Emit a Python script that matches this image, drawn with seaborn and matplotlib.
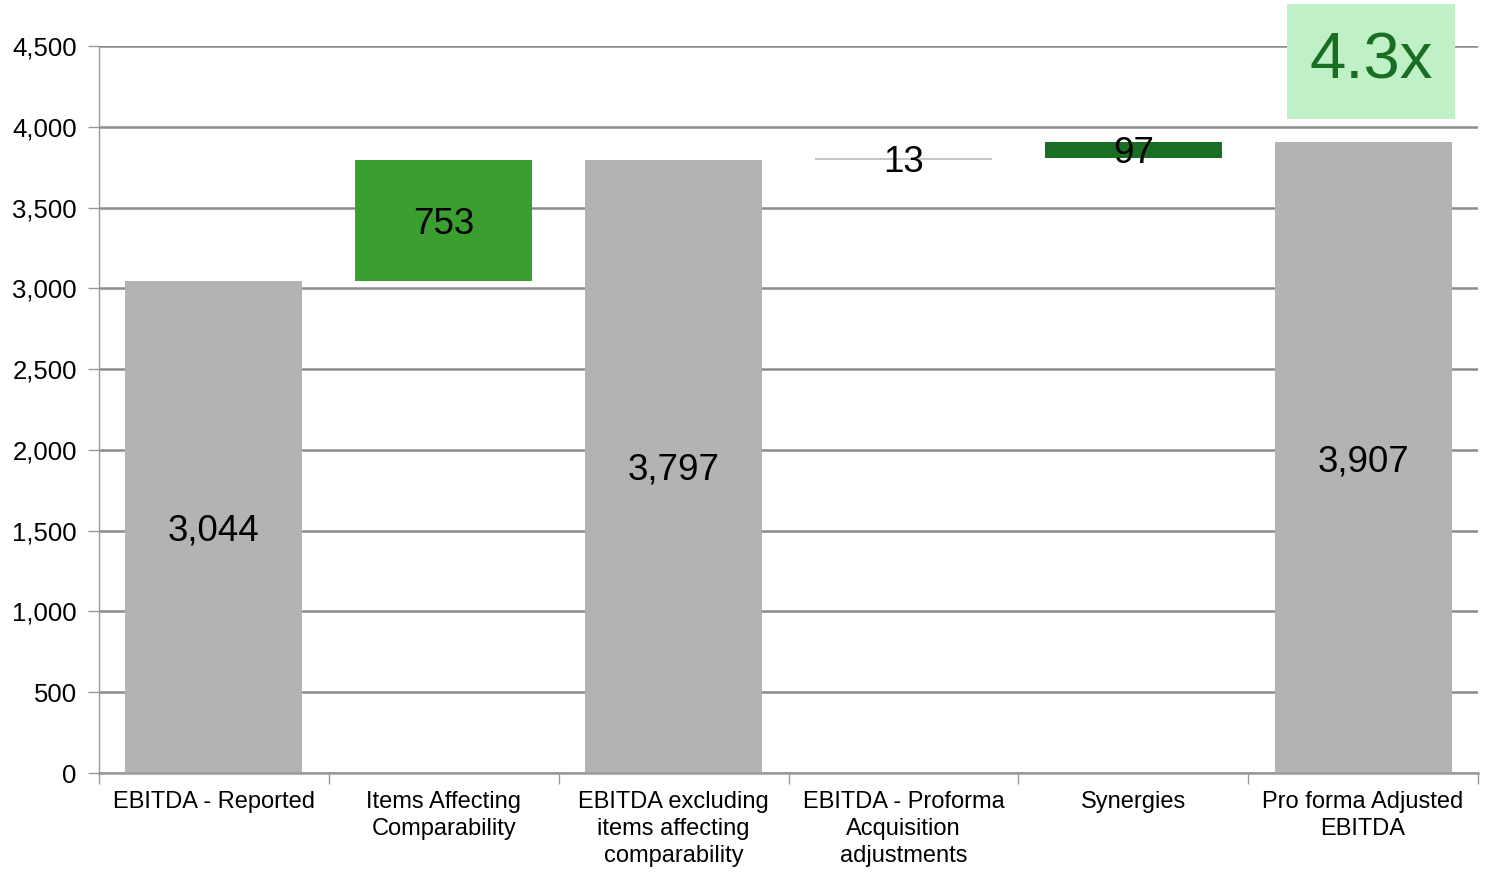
#!/usr/bin/env python
"""EBITDA bridge drawn as a seaborn waterfall."""

import matplotlib

matplotlib.use("Agg")
import matplotlib.pyplot as plt  # noqa: E402
import numpy as np  # noqa: E402
import seaborn as sns  # noqa: E402
from matplotlib.ticker import FuncFormatter, MultipleLocator  # noqa: E402

CATEGORIES = [
    "EBITDA - Reported",
    "Items Affecting\nComparability",
    "EBITDA excluding\nitems affecting\ncomparability",
    "EBITDA - Proforma\nAcquisition\nadjustments",
    "Synergies",
    "Pro forma Adjusted\nEBITDA",
]
VALUES = [3044, 753, 3797, 13, 97, 3907]
IS_TOTAL = [True, False, True, False, False, True]
LABELS = ["3,044", "753", "3,797", "13", "97", "3,907"]
COLORS = ["#b3b3b3", "#3b9e31", "#b3b3b3", "#c6c6c6", "#1a6e23", "#b3b3b3"]
MULTIPLE = "4.3x"


def waterfall_bottoms(values, is_total):
    bottoms, running = [], 0
    for value, total in zip(values, is_total):
        if total:
            bottoms.append(0)
            running = value
        else:
            bottoms.append(running)
            running += value
    return bottoms


def main() -> None:
    sns.set_theme(style="white")
    plt.rcParams["font.family"] = ["Liberation Sans", "DejaVu Sans"]

    bottoms = waterfall_bottoms(VALUES, IS_TOTAL)
    tops = [b + v for b, v in zip(bottoms, VALUES)]

    fig = plt.figure(figsize=(14.85, 8.72), dpi=100)
    ax = fig.add_axes([0.0667, 0.1135, 0.9286, 0.8337])
    ax.yaxis.grid(True, color="#8c8c8c", linewidth=1.8)
    ax.set_axisbelow(True)

    sns.barplot(
        x=CATEGORIES, y=tops, hue=CATEGORIES, palette=COLORS,
        width=0.77, saturation=1, legend=False, ax=ax, linewidth=0,
    )
    # turn the full-height bars into floating waterfall segments
    for patch, bottom, value in zip(ax.patches, bottoms, VALUES):
        patch.set_y(bottom)
        patch.set_height(value)

    for i, (bottom, value, label) in enumerate(zip(bottoms, VALUES, LABELS)):
        ax.annotate(label, (i, bottom + value / 2), xytext=(0, -3),
                    textcoords="offset points", ha="center", va="center",
                    fontsize=26.5, color="black")

    ax.text(5.035, 4404, MULTIPLE, ha="center", va="center", fontsize=47,
            color="#1a6e23", clip_on=False,
            bbox=dict(boxstyle="square,pad=0.345", mutation_aspect=1.22,
                      fc="#c0f0c6", ec="none"))

    ax.set_ylim(0, 4500)
    ax.set_xlim(-0.5, len(CATEGORIES) - 0.5)
    ax.yaxis.set_major_locator(MultipleLocator(500))
    ax.yaxis.set_major_formatter(FuncFormatter(lambda v, _: f"{v:,.0f}"))
    ax.set_xticks(np.arange(-0.5, len(CATEGORIES)), minor=True)
    ax.tick_params(axis="x", which="major", length=0, pad=13, labelsize=17,
                   colors="black")
    ax.tick_params(axis="x", which="minor", length=8, width=1, color="#9a9a9a",
                   direction="out", bottom=True)
    ax.tick_params(axis="y", length=8, width=1, color="#9a9a9a", direction="out",
                   left=True, labelsize=18.5, colors="black", pad=8)
    for lbl in ax.get_yticklabels():
        lbl.set_color("black")
    for lbl in ax.get_xticklabels():
        lbl.set_linespacing(1.3)

    for side in ("top", "right"):
        ax.spines[side].set_visible(False)
    ax.spines["left"].set_color("#9a9a9a")
    ax.spines["left"].set_linewidth(1)
    ax.spines["bottom"].set_color("#9a9a9a")
    ax.spines["bottom"].set_linewidth(1.8)
    ax.set_xlabel("")
    ax.set_ylabel("")

    fig.savefig("out.png", dpi=100)
    plt.close(fig)


if __name__ == "__main__":
    main()
